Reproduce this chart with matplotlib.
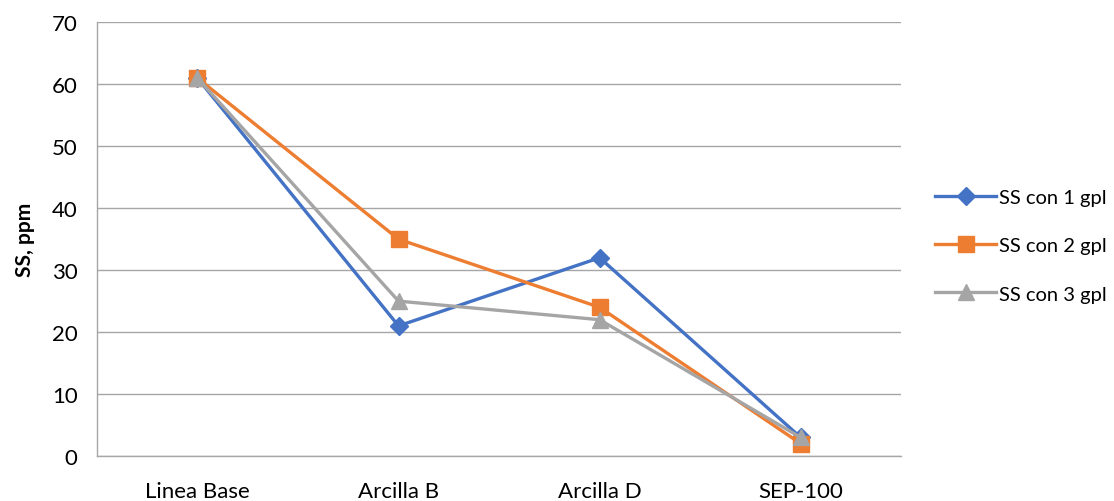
import matplotlib.pyplot as plt

plt.rcParams['font.family'] = ['Lato', 'DejaVu Sans']

# SS (ppm) for each treatment and dose
categories = ["Linea Base", "Arcilla B", "Arcilla D", "SEP-100"]
ss_1gpl = [61, 21, 32, 3]
ss_2gpl = [61, 35, 24, 2]
ss_3gpl = [61, 25, 22, 3]

fig = plt.figure(figsize=(11.14, 5.02), dpi=100)
ax = fig.add_axes([0.087, 0.0896, 0.722, 0.864])

x = range(len(categories))
ax.plot(x, ss_1gpl, color='#4472C4', lw=2.4, marker='D', ms=9, label="SS con 1 gpl")
ax.plot(x, ss_2gpl, color='#ED7D31', lw=2.4, marker='s', ms=11, label="SS con 2 gpl")
ax.plot(x, ss_3gpl, color='#A5A5A5', lw=2.4, marker='^', ms=12, label="SS con 3 gpl")

ax.set_xlim(-0.5, 3.5)
ax.set_ylim(0, 70)
ax.set_yticks(range(0, 71, 10))
ax.set_xticks(list(x))
ax.set_xticklabels(categories)
ax.tick_params(axis='both', length=0, labelsize=16, colors='#000000', pad=14)
ax.tick_params(axis='x', pad=18)
ax.grid(axis='y', color='#A6A6A6', lw=1)
ax.set_axisbelow(True)
for side in ['top', 'right']:
    ax.spines[side].set_visible(False)
for side in ['left', 'bottom']:
    ax.spines[side].set_color('#A6A6A6')
    ax.spines[side].set_linewidth(1)

ax.set_ylabel("SS, ppm", fontsize=15, fontweight='bold', labelpad=12)

ax.legend(loc='center left', bbox_to_anchor=(1.02, 0.485), frameon=False,
          fontsize=14.5, handlelength=3, labelspacing=1.55, handletextpad=0.15)

fig.savefig("out.png")
